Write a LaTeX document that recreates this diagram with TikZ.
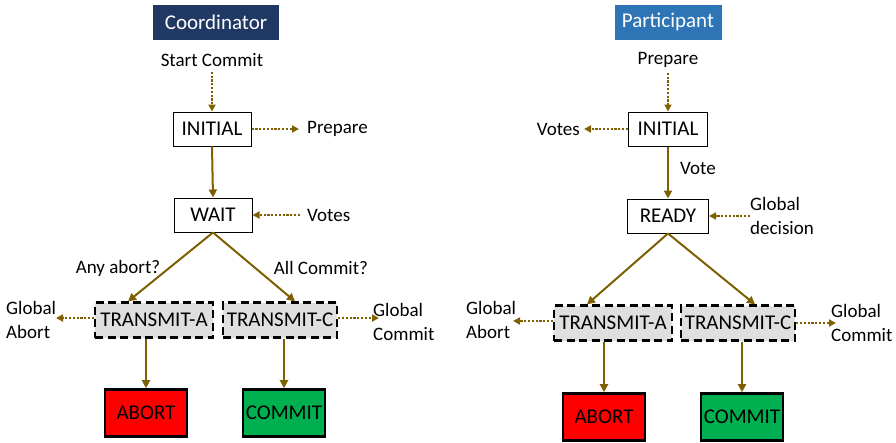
\documentclass[tikz,border=0pt]{standalone}
\usepackage{fontspec}
\setmainfont{Carlito}
\usetikzlibrary{arrows.meta}
\definecolor{flow}{RGB}{127,96,0}
\definecolor{navy}{RGB}{31,56,100}
\definecolor{steel}{RGB}{46,117,182}
\definecolor{abortred}{RGB}{255,0,0}
\definecolor{commitgreen}{RGB}{0,176,80}
\newcommand{\lbl}{\fontsize{19}{21}\selectfont}
\newcommand{\boxfont}{\fontsize{21}{23}\selectfont}
\newcommand{\notefont}{\fontsize{19}{24}\selectfont}
\begin{document}
\begin{tikzpicture}[x=1pt,y=-1pt,
  every node/.style={font=\lbl},
  title/.style={fill=#1, text=white, minimum width=120pt, minimum height=35pt, inner sep=0pt, font=\fontsize{21}{23}\selectfont},
  state/.style={draw, line width=1pt, fill=white, minimum width=78pt, minimum height=34pt, inner sep=0pt, font=\boxfont},
  trans/.style={draw, dash pattern=on 8pt off 4.5pt, line width=2.2pt, fill=gray!25, minimum width=116pt, minimum height=35pt, inner sep=0pt, font=\boxfont},
  final/.style={draw, line width=2.6pt, fill=#1, minimum width=82pt, minimum height=47pt, inner sep=0pt, font=\boxfont},
  flowarrow/.style={flow, line width=2pt, -{Triangle[length=8pt,width=8pt]}},
  msg/.style={flow, line width=2.2pt, dash pattern=on 2.2pt off 1.6pt, -{Triangle[length=7pt,width=7pt]}},
  note/.style={align=left, inner sep=0pt, font=\notefont}
]
\useasboundingbox (0,0) rectangle (896,442);

% ---------------- Coordinator ----------------
\node[title=navy, minimum width=126pt] (ct) at (216,22) {Coordinator};
\node[inner sep=0pt] (cstart) at (212,60) {Start Commit};
\node[state] (cinit) at (212,129) {INITIAL};
\node[state] (cwait) at (213,215) {WAIT};
\node[inner sep=0pt, anchor=west] (cprep) at (307,129) {Prepare};
\coordinate (cprepend) at (299,129);
\node[inner sep=0pt, anchor=west] (cvotes) at (307,215) {Votes};
\coordinate (cvotesstart) at (300,215);
\node[inner sep=0pt] (cany) at (118,268) {Any abort?};
\node[inner sep=0pt] (call) at (321,268) {All Commit?};
\node[trans, minimum width=118pt] (cta) at (154,320) {TRANSMIT-A};
\node[trans, minimum width=114pt] (ctc) at (280,320) {TRANSMIT-C};
\node[note, anchor=west] (cga) at (6,320) {Global\\Abort};
\coordinate (cgaend) at (56,318);
\node[note, anchor=west] (cgc) at (373,322) {Global\\Commit};
\coordinate (cgcend) at (379,318);
\node[final=abortred] (cab) at (146,413) {ABORT};
\node[final=commitgreen] (ccm) at (284,413) {COMMIT};

\draw[msg] (cstart.south) ++(0,5) coordinate (cs0) (cs0) -- (cinit.north);
\draw[msg] (cinit.east) -- (cprepend);
\draw[flowarrow] (cinit.south) -- (cwait.north);
\draw[msg] (cvotesstart) -- (cwait.east);
\draw[flowarrow] (cwait.south) -- ([xshift=-26pt]cta.north);
\draw[flowarrow] (cwait.south) -- ([xshift=15pt]ctc.north);
\draw[msg] (cta.west |- cgaend) -- (cgaend);
\draw[msg] (ctc.east |- cgcend) -- (cgcend);
\draw[flowarrow] (cab.north |- cta.south) -- (cab.north);
\draw[flowarrow] (ccm.north |- ctc.south) -- (ccm.north);

% ---------------- Participant ----------------
\node[title=steel, minimum width=107pt] (pt) at (668,22) {Participant};
\node[inner sep=0pt] (pprep) at (668,60) {Prepare};
\node[state, minimum width=79pt] (pinit) at (668,129) {INITIAL};
\node[state, minimum width=81pt] (pready) at (668,216) {READY};
\node[inner sep=0pt, anchor=east] (pvotes) at (580,129) {Votes};
\coordinate (pvotesend) at (584,129);
\node[inner sep=0pt, anchor=west] (pvote) at (680,168) {Vote};
\node[note, anchor=west] (pgd) at (750,216) {Global\\decision};
\coordinate (pgdstart) at (750,216);
\node[trans, minimum width=118pt] (pta) at (613,323) {TRANSMIT-A};
\node[trans, minimum width=114pt] (ptc) at (738,323) {TRANSMIT-C};
\node[note, anchor=west] (pga) at (466,320) {Global\\Abort};
\coordinate (pgaend) at (513,321);
\node[note, anchor=west] (pgc) at (831,323) {Global\\Commit};
\coordinate (pgcend) at (836,323);
\node[final=abortred] (pab) at (604,417) {ABORT};
\node[final=commitgreen] (pcm) at (742,417) {COMMIT};

\draw[msg] (pprep.south) ++(0,5) coordinate (ps0) (ps0) -- (pinit.north);
\draw[msg] (pinit.west) -- (pvotesend);
\draw[flowarrow] (pinit.south) -- (pready.north);
\draw[msg] (pgdstart) -- (pready.east);
\draw[flowarrow] (pready.south) -- ([xshift=-26pt]pta.north);
\draw[flowarrow] (pready.south) -- ([xshift=17pt]ptc.north);
\draw[msg] (pta.west |- pgaend) -- (pgaend);
\draw[msg] (ptc.east |- pgcend) -- (pgcend);
\draw[flowarrow] (pab.north |- pta.south) -- (pab.north);
\draw[flowarrow] (pcm.north |- ptc.south) -- (pcm.north);
\end{tikzpicture}
\end{document}
